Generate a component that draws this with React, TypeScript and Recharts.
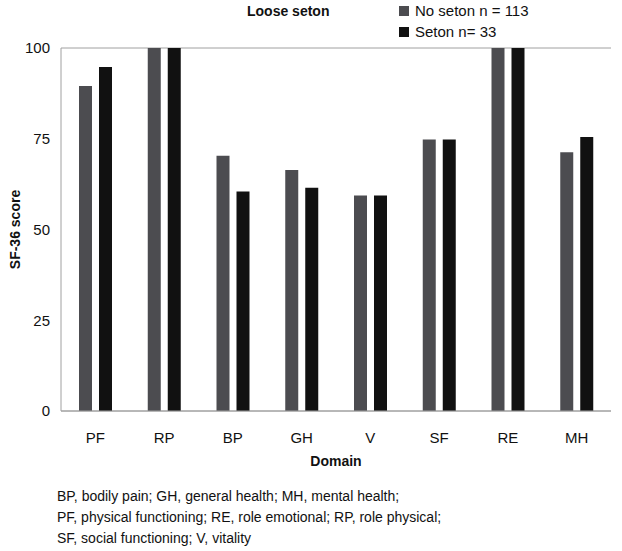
import { BarChart, Bar, XAxis, YAxis, CartesianGrid } from "recharts";

const domains = ["PF", "RP", "BP", "GH", "V", "SF", "RE", "MH"];
const noSeton = [89.5, 100, 70.3, 66.4, 59.4, 74.8, 100, 71.3];
const seton = [94.8, 100, 60.5, 61.5, 59.4, 74.8, 100, 75.5];
const yTicks = [0, 25, 50, 75, 100];
const series = [
  { key: "noSeton", name: "No seton n = 113", color: "#4c4c50" },
  { key: "seton", name: "Seton n= 33", color: "#111111" },
];
const footnotes = [
  "BP, bodily pain; GH, general health; MH, mental health;",
  "PF, physical functioning; RE, role emotional; RP, role physical;",
  "SF, social functioning; V, vitality",
];

const data = domains.map((d, i) => ({ domain: d, noSeton: noSeton[i], seton: seton[i] }));

const FONT = "'Liberation Sans', Arial, sans-serif";
const GRID = "#a0a0a0";

export default function App() {
  return (
    <div style={{ position: "absolute", left: 0, top: 0, width: 622, height: 551, background: "#fff", fontFamily: FONT }}>
      <div style={{ position: "absolute", left: 247, top: 3, fontSize: 14, fontWeight: "bold", color: "#111" }}>Loose seton</div>
      <div style={{ position: "absolute", left: 399, top: 0, fontSize: 15, lineHeight: "21px", color: "#111" }}>
        {series.map((s) => (
          <div key={s.key} style={{ display: "flex", alignItems: "center" }}>
            <span style={{ display: "inline-block", width: 10, height: 10, background: s.color, marginRight: 6 }} />
            {s.name}
          </div>
        ))}
      </div>
      <BarChart
        width={622}
        height={480}
        data={data}
        margin={{ top: 48, right: 11, left: 0, bottom: 9 }}
        barSize={13}
        barGap={7}
      >
        <CartesianGrid vertical={false} stroke={GRID} />
        <XAxis
          dataKey="domain"
          tickLine={false}
          axisLine={{ stroke: GRID }}
          tickMargin={15}
          height={60}
          tick={{ fill: "#111", fontSize: 15, fontFamily: FONT }}
          label={({ viewBox }: any) => (
            <text x={viewBox.x + viewBox.width / 2} y={viewBox.y + 55} textAnchor="middle" fontSize={14} fontWeight="bold" fill="#111" fontFamily={FONT}>
              Domain
            </text>
          )}
        />
        <YAxis
          yAxisId="l"
          domain={[0, 100]}
          ticks={yTicks}
          width={61}
          tickLine={false}
          axisLine={{ stroke: GRID }}
          tickMargin={5}
          tick={{ fill: "#111", fontSize: 15, fontFamily: FONT }}
          label={({ viewBox }: any) => {
            const cy = viewBox.y + viewBox.height / 2;
            return (
              <text x={20} y={cy} transform={`rotate(-90, 20, ${cy})`} textAnchor="middle" fontSize={14} fontWeight="bold" fill="#111" fontFamily={FONT}>
                SF-36 score
              </text>
            );
          }}
        />
        <YAxis yAxisId="r" orientation="right" width={0} domain={[0, 100]} tick={false} tickLine={false} axisLine={{ stroke: GRID }} />
        {series.map((s) => (
          <Bar key={s.key} yAxisId="l" dataKey={s.key} name={s.name} fill={s.color} isAnimationActive={false} />
        ))}
      </BarChart>
      <div style={{ position: "absolute", left: 57, top: 486, fontSize: 14, lineHeight: "21px", color: "#111" }}>
        {footnotes.map((f) => (
          <div key={f}>{f}</div>
        ))}
      </div>
    </div>
  );
}
